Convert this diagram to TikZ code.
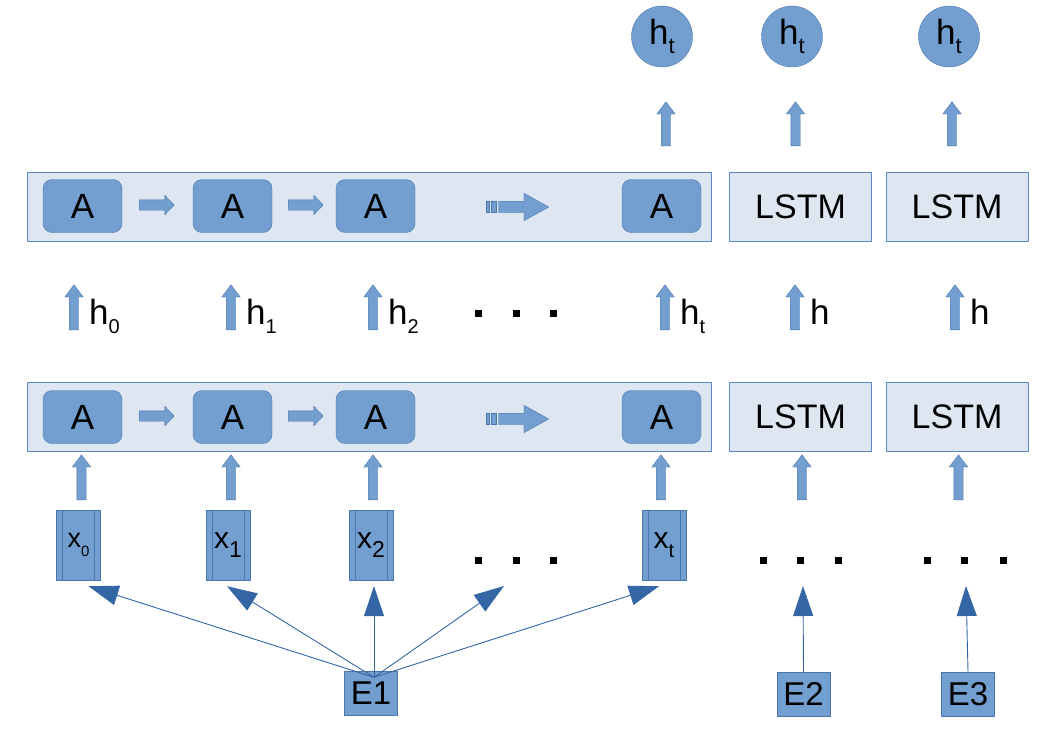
\documentclass[tikz,border=0pt]{standalone}
\usepackage{fontspec}
\setmainfont{Liberation Sans}
\usetikzlibrary{shapes.arrows,arrows.meta}
\definecolor{cellfill}{HTML}{729FCF}
\definecolor{celledge}{HTML}{4A76AE}
\definecolor{panelfill}{HTML}{DEE7F1}
\definecolor{paneledge}{HTML}{5B88C0}
\definecolor{tipblue}{HTML}{3465A4}
\newcommand{\fz}[1]{\fontsize{#1}{#1}\selectfont}
\newcommand{\lowsub}[2][20]{\raisebox{-9pt}{\fz{#1}#2}}

\begin{document}
\begin{tikzpicture}[x=1pt,y=-1pt,
    panel/.style={draw=paneledge,fill=panelfill,line width=0.9pt,minimum width=#1,minimum height=69pt,inner sep=0pt,font=\fz{34}},
    panel/.default=142pt,
    cell/.style={draw=celledge,fill=cellfill,rounded corners=9pt,minimum width=79pt,minimum height=53pt,inner sep=0pt,font=\fz{35}},
    hout/.style={circle,draw=celledge,fill=cellfill,minimum size=61pt,inner sep=0pt,font=\fz{35}},
    xin/.style={draw=celledge,fill=cellfill,minimum width=44pt,minimum height=70pt,inner sep=0pt,font=\fz{30},
      path picture={
        \draw[celledge] ([xshift=6pt]path picture bounding box.north west) -- ([xshift=6pt]path picture bounding box.south west);
        \draw[celledge] ([xshift=-6pt]path picture bounding box.north east) -- ([xshift=-6pt]path picture bounding box.south east);
      }},
    emb/.style={draw=celledge,fill=cellfill,minimum width=53pt,minimum height=44pt,inner sep=0pt,font=\fz{33}},
    upblk/.style={single arrow,draw=celledge,fill=cellfill,rotate=90,anchor=tail,inner xsep=0pt,inner ysep=4.5pt,
      text height=0pt,text depth=0pt,single arrow head extend=4.5pt,single arrow tip angle=74,minimum height=#1},
    rightblk/.style={single arrow,draw=celledge,fill=cellfill,anchor=tail,inner xsep=0pt,inner ysep=5pt,
      text height=0pt,text depth=0pt,single arrow head extend=4.5pt,single arrow tip angle=92,minimum height=#1},
    bigblk/.style={single arrow,draw=celledge,fill=cellfill,anchor=tail,inner xsep=0pt,inner ysep=5.5pt,
      text height=0pt,text depth=0pt,single arrow head extend=8pt,single arrow tip angle=58,minimum height=#1},
    stripe/.style={draw=celledge,fill=cellfill,line width=0.5pt},
    lbl/.style={inner sep=0pt,font=\fz{35}},
    dot/.style={fill=black,minimum size=7pt,inner sep=0pt},
    feed/.style={draw=tipblue,line width=0.9pt,-{Triangle[length=30pt,width=20pt]}}]
  \useasboundingbox (0,0) rectangle (1056,728);

  % outputs
  \foreach \x [count=\i] in {662,792,949}
    \node[hout] (o\i) at (\x,36.5) {h\lowsub[22]{t}};
  \foreach \x [count=\i] in {666,795.5,952}
    \node[upblk=44pt] (ou\i) at (\x,146) {};

  % upper layer
  \node[panel=684pt] (top) at (369,206.5) {};
  \node[panel] (tl1) at (800.5,206.5) {LSTM};
  \node[panel] (tl2) at (957,206.5) {LSTM};
  \foreach \x [count=\i] in {82.5,232.5,375.5,661.5}
    \node[cell] (ta\i) at (\x,206) {A};
  \node[rightblk=35pt] (tr1) at (139,205) {};
  \node[rightblk=35pt] (tr2) at (288,205) {};
  \draw[stripe] (486.7,201.5) rectangle (489.3,212.5);
  \draw[stripe] (491.7,201.5) rectangle (496.7,212.5);
  \node[bigblk=50pt] (tr3) at (498.5,207) {};

  % hidden states
  \foreach \x/\lab [count=\i] in {74/{h\lowsub{0}},231/{h\lowsub{1}},373/{h\lowsub{2}},665/{h\lowsub{t}},795/h,955/h}{
    \node[upblk=45pt] (hu\i) at (\x,330) {};
    \node[lbl,anchor=base west] (hl\i) at (\x+15,324) {\lab};
  }
  \foreach \x in {478,516,553}
    \node[dot] (md\x) at (\x,313) {};

  % lower layer
  \node[panel=684pt] (bot) at (369,416.5) {};
  \node[panel] (bl1) at (800.5,416.5) {LSTM};
  \node[panel] (bl2) at (957,416.5) {LSTM};
  \foreach \x [count=\i] in {82.5,232.5,375.5,661.5}
    \node[cell] (ba\i) at (\x,417) {A};
  \node[rightblk=35pt] (br1) at (139,416) {};
  \node[rightblk=35pt] (br2) at (288,416) {};
  \draw[stripe] (486.7,413.5) rectangle (489.3,424.5);
  \draw[stripe] (491.7,413.5) rectangle (496.7,424.5);
  \node[bigblk=50pt] (br3) at (498.5,419) {};
  \foreach \x [count=\i] in {81.5,231,373,661,802,958.5}
    \node[upblk=45pt] (bu\i) at (\x,500) {};

  % inputs
  \node[xin,font=\fz{27}] (x1) at (78.5,545) {x\lowsub[15]{0}};
  \node[xin] (x2) at (228,545) {x\lowsub[23]{1}};
  \node[xin] (x3) at (371,545) {x\lowsub[23]{2}};
  \node[xin] (x4) at (664,545) {x\lowsub[20]{t}};
  \foreach \x in {478,516,553,763,800,838,927,964,1003}
    \node[dot] (bd\x) at (\x,560) {};

  % embeddings
  \node[emb] (E1) at (371,693.5) {E1};
  \node[emb] (E2) at (803.5,694) {E2};
  \node[emb] (E3) at (968,694) {E3};
  \coordinate (dotstip) at (504,586);
  \coordinate (e2tip) at (803,586);
  \coordinate (e3tip) at (966,586);

  \foreach \n/\s in {x1/10,x2/-1,x3/3,x4/-5}
    \draw[feed] ([xshift=3pt,yshift=-6pt]E1.north) -- ([xshift=\s pt,yshift=-6pt]\n.south);
  \draw[feed] ([xshift=3pt,yshift=-6pt]E1.north) -- (dotstip);
  \draw[feed] (E2.north) -- (e2tip);
  \draw[feed] (E3.north) -- (e3tip);
\end{tikzpicture}
\end{document}
